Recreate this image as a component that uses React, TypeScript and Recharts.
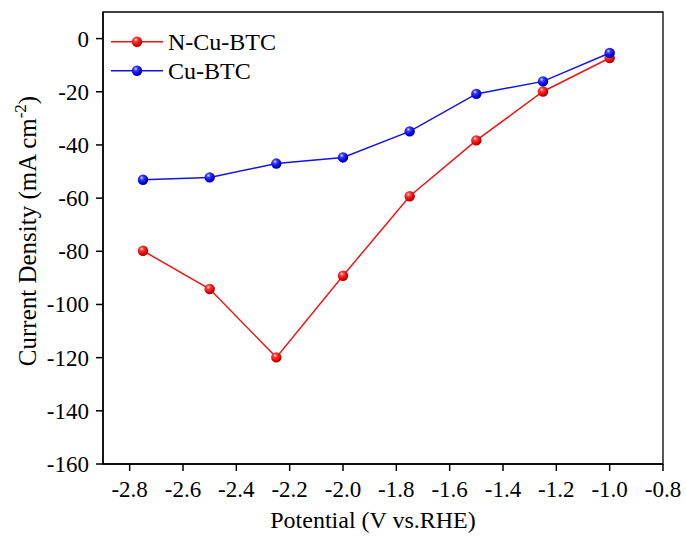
import React from 'react';
import {
  LineChart,
  Line,
  XAxis,
  YAxis,
  Legend,
  ReferenceArea,
} from 'recharts';

// Applied potential (V vs. RHE)
const potential = [-2.75, -2.5, -2.25, -2.0, -1.75, -1.5, -1.25, -1.0];
// Current density (mA cm^-2)
const nCuBTC = [-79.8, -94.2, -119.9, -89.2, -59.3, -38.3, -19.9, -7.3];
const cuBTC = [-53.1, -52.2, -47.0, -44.7, -34.9, -20.8, -16.1, -5.4];

const xTicks = [-2.8, -2.6, -2.4, -2.2, -2.0, -1.8, -1.6, -1.4, -1.2, -1.0, -0.8];
const yTicks = [-160, -140, -120, -100, -80, -60, -40, -20, 0];

const seriesNames = ['N-Cu-BTC', 'Cu-BTC'];

const data = potential.map((p, i) => ({
  potential: p,
  nCuBTC: nCuBTC[i],
  cuBTC: cuBTC[i],
}));

const FONT = '"Liberation Serif", "Times New Roman", serif';
const RED = '#ee1515';
const BLUE = '#1414e0';

const textStyle = (size: number): React.CSSProperties => ({
  fontFamily: FONT,
  fontSize: size,
  fill: '#000',
});

const Gradients = () => (
  <defs>
    <radialGradient id="ballRed" cx="38%" cy="32%" r="68%">
      <stop offset="0%" stopColor="#ffe0e0" />
      <stop offset="28%" stopColor="#ff3a3a" />
      <stop offset="75%" stopColor="#e00000" />
      <stop offset="100%" stopColor="#a00000" />
    </radialGradient>
    <radialGradient id="ballBlue" cx="38%" cy="32%" r="68%">
      <stop offset="0%" stopColor="#e0e0ff" />
      <stop offset="28%" stopColor="#3a3aff" />
      <stop offset="75%" stopColor="#0000dd" />
      <stop offset="100%" stopColor="#00009a" />
    </radialGradient>
  </defs>
);

const Ball = (props: any) => {
  const { cx, cy, fillId } = props;
  if (cx == null || cy == null) return null;
  return <circle cx={cx} cy={cy} r={5.2} fill={`url(#${fillId})`} />;
};

const XTick = (props: any) => {
  const { x, y, payload } = props;
  return (
    <text x={x} y={y} dy={16} textAnchor="middle" style={textStyle(23)}>
      {Number(payload.value).toFixed(1)}
    </text>
  );
};

const YTick = (props: any) => {
  const { x, y, payload } = props;
  return (
    <text x={x} y={y} dy={8} textAnchor="end" style={textStyle(23)}>
      {payload.value}
    </text>
  );
};

const XTitle = () => (
  <text x={373} y={528} textAnchor="middle" style={textStyle(24)}>
    Potential (V vs.RHE)
  </text>
);

const YTitle = () => (
  <text
    transform="translate(35.5,231) rotate(-90)"
    textAnchor="middle"
    style={textStyle(25)}
  >
    Current Density (mA cm
    <tspan dy={-10} style={{ fontSize: 17 }}>
      -2
    </tspan>
    <tspan dy={10}>)</tspan>
  </text>
);

const LegendBox = () => {
  const rows = [
    { name: seriesNames[0], color: RED, fill: 'ballRed', y: 16.7 },
    { name: seriesNames[1], color: BLUE, fill: 'ballBlue', y: 45.7 },
  ];
  return (
    <svg width={220} height={64} style={{ overflow: 'visible' }}>
      <Gradients />
      {rows.map((r) => (
        <g key={r.name}>
          <line x1={11} x2={63} y1={r.y} y2={r.y} stroke={r.color} strokeWidth={1.5} />
          <circle cx={37} cy={r.y} r={5.2} fill={`url(#${r.fill})`} />
          <text x={68} y={r.y} dy={8} style={textStyle(24)}>
            {r.name}
          </text>
        </g>
      ))}
    </svg>
  );
};

export default function App() {
  return (
    <div
      style={{
        position: 'absolute',
        left: 0,
        top: 0,
        background: '#fff',
        fontFamily: FONT,
      }}
    >
      <LineChart
        width={686}
        height={536}
        data={data}
        margin={{ top: 12, right: 23, left: 0, bottom: 0 }}
        style={{ fontFamily: FONT }}
      >
        <Gradients />
        <XAxis
          dataKey="potential"
          type="number"
          domain={[-2.9, -0.8]}
          ticks={xTicks}
          interval={0}
          allowDataOverflow
          height={72}
          tickSize={7}
          tickMargin={10}
          axisLine={{ stroke: '#000', strokeWidth: 1.5 }}
          tickLine={{ stroke: '#000', strokeWidth: 1.5 }}
          tick={<XTick />}
          label={<XTitle />}
        />
        <YAxis
          type="number"
          domain={[-160, 10]}
          ticks={yTicks}
          interval={0}
          allowDataOverflow
          width={103}
          tickSize={7}
          tickMargin={7}
          axisLine={{ stroke: '#000', strokeWidth: 1.5 }}
          tickLine={{ stroke: '#000', strokeWidth: 1.5 }}
          tick={<YTick />}
          label={<YTitle />}
        />
        <ReferenceArea
          x1={-2.9}
          x2={-0.8}
          y1={-160}
          y2={10}
          fill="none"
          fillOpacity={0}
          stroke="#000"
          strokeWidth={1.3}
          ifOverflow="visible"
        />
        <Line
          dataKey="nCuBTC"
          name={seriesNames[0]}
          stroke={RED}
          strokeWidth={1.5}
          isAnimationActive={false}
          dot={(p: any) => <Ball key={`n${p.index}`} {...p} fillId="ballRed" />}
          activeDot={false}
        />
        <Line
          dataKey="cuBTC"
          name={seriesNames[1]}
          stroke={BLUE}
          strokeWidth={1.5}
          isAnimationActive={false}
          dot={(p: any) => <Ball key={`c${p.index}`} {...p} fillId="ballBlue" />}
          activeDot={false}
        />
        <Legend
          layout="vertical"
          align="center"
          verticalAlign="middle"
          content={<LegendBox />}
          wrapperStyle={{ left: 100, top: 25, width: 220, height: 64 }}
        />
      </LineChart>
    </div>
  );
}
